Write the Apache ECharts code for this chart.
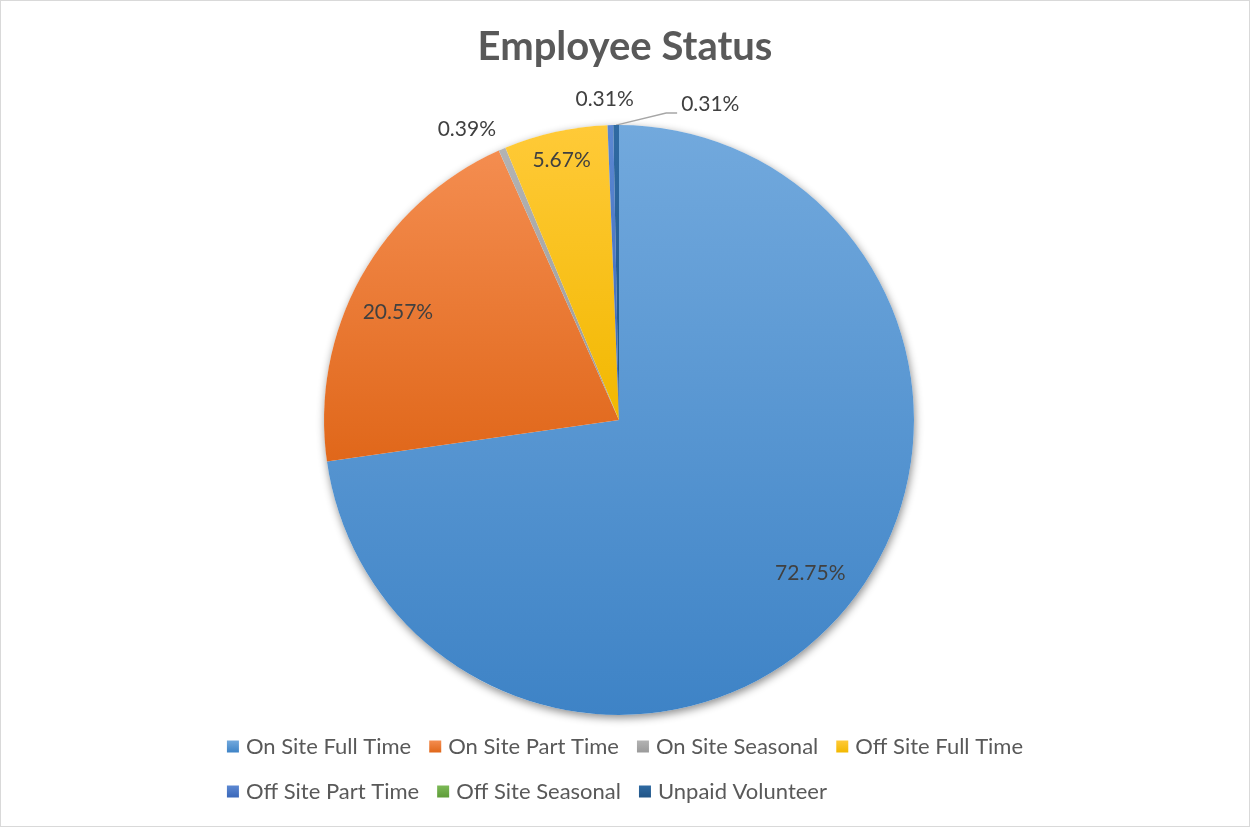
<!DOCTYPE html>
<html>
<head>
<meta charset="utf-8">
<script src="https://cdn.jsdelivr.net/npm/echarts@6/dist/echarts.min.js"></script>
<style>
  html, body { margin: 0; padding: 0; background: #ffffff; }
  #chart { width: 1250px; height: 827px; box-sizing: border-box; border: 1px solid #d9d9d9; }
</style>
</head>
<body>
<div id="chart"></div>
<script>
// Employee status breakdown (percent of staff)
const categories = [
  'On Site Full Time', 'On Site Part Time', 'On Site Seasonal', 'Off Site Full Time',
  'Off Site Part Time', 'Off Site Seasonal', 'Unpaid Volunteer'
];
const shares = [72.75, 20.57, 0.39, 5.67, 0.31, 0, 0.31];

// top / bottom shades for each slice gradient
const colorTop = ['#72a9dd', '#f48d50', '#b3b3b3', '#ffca38', '#5c88d2', '#7cb957', '#2f6aa2'];
const colorBottom = ['#3e83c6', '#e0671a', '#9a9a9a', '#f2b800', '#3a67b9', '#5e9c38', '#215587'];

const FONT = 'Lato, "Noto Sans", sans-serif';
const TEXT = '#404040';
const grad = i => new echarts.graphic.LinearGradient(0, 0, 0, 1, [
  { offset: 0, color: colorTop[i] }, { offset: 1, color: colorBottom[i] }
]);

const CENTER = [618, 419];
const R = 295;
const insideLabels = [0, 1, 3];

const chart = echarts.init(document.getElementById('chart'), null, { renderer: 'canvas' });

const mainData = categories.map((name, i) => {
  const item = { name, value: shares[i], itemStyle: { color: grad(i) }, label: { show: false }, labelLine: { show: false } };
  if (i === 2) {
    item.label = { show: true, position: 'outside' };
    item.labelLine = { show: false, length: 18, length2: 0 };
  } else if (i === 4) {
    item.label = { show: true, position: 'outside' };
    item.labelLine = { show: false, length: 26, length2: 0 };
  } else if (i === 6) {
    item.label = { show: true, position: 'outside' };
    item.labelLine = { show: true, length: 10, length2: 10, lineStyle: { color: '#a6a6a6', width: 1.3 } };
  }
  return item;
});

const overlayData = categories.map((name, i) => ({
  name, value: shares[i],
  itemStyle: { color: 'rgba(0,0,0,0)' },
  label: { show: insideLabels.includes(i) }
}));

chart.setOption({
  animation: false,
  backgroundColor: '#ffffff',
  title: {
    text: 'Employee Status',
    left: 'center',
    top: 21,
    textStyle: { fontFamily: FONT, fontSize: 40, fontWeight: 'bold', color: '#595959' }
  },
  legend: {
    data: categories,
    left: 'center',
    top: 727,
    width: 880,
    itemWidth: 12,
    itemHeight: 12,
    itemGap: 18,
    icon: 'rect',
    selectedMode: false,
    textStyle: { fontFamily: FONT, fontSize: 22, color: '#595959', lineHeight: 27, padding: [0, 0, 0, 2] }
  },
  series: [
    {
      // visible slices, with the small outside labels
      type: 'pie',
      z: 2,
      center: CENTER,
      radius: R,
      startAngle: 90,
      clockwise: true,
      avoidLabelOverlap: false,
      stillShowZeroSum: false,
      silent: true,
      itemStyle: { borderWidth: 0 },
      label: {
        formatter: p => p.value.toFixed(2) + '%',
        fontFamily: FONT, fontSize: 21, color: TEXT
      },
      labelLayout: function (p) {
        if (p.dataIndex === 2) {
          return { dx: 6, dy: -3 };
        }
        if (p.dataIndex === 4) {
          return { align: 'center' };
        }
        if (p.dataIndex === 6 && p.labelLinePoints) {
          const p0 = p.labelLinePoints[0];
          return {
            x: p0[0] + 65, y: p0[1] - 21, align: 'left',
            labelLinePoints: [p0, [p0[0] + 50, p0[1] - 12], [p0[0] + 61, p0[1] - 12]]
          };
        }
        return {};
      },
      data: mainData
    },
    {
      // full disc beneath the slices that casts the soft drop shadow
      type: 'pie',
      z: 1,
      center: CENTER,
      radius: R,
      silent: true,
      label: { show: false },
      labelLine: { show: false },
      itemStyle: { color: '#ffffff', shadowBlur: 9, shadowColor: 'rgba(0,0,0,0.45)', shadowOffsetX: 1, shadowOffsetY: 3 },
      data: [{ name: '__disc', value: 1 }]
    },
    {
      // transparent ring carrying the in-slice percentage labels
      type: 'pie',
      z: 3,
      center: CENTER,
      radius: [Math.round(R * 0.66), R],
      startAngle: 90,
      clockwise: true,
      avoidLabelOverlap: false,
      silent: true,
      label: {
        position: 'inside',
        formatter: p => p.value.toFixed(2) + '%',
        fontFamily: FONT, fontSize: 21, color: TEXT
      },
      labelLine: { show: false },
      labelLayout: function (p) {
        if (p.dataIndex === 0) return { dx: 4, dy: -9 };
        if (p.dataIndex === 1) return { dx: -4, dy: 12 };
        if (p.dataIndex === 3) return { dx: -4, dy: -18 };
        return {};
      },
      data: overlayData
    }
  ]
});
</script>
</body>
</html>
